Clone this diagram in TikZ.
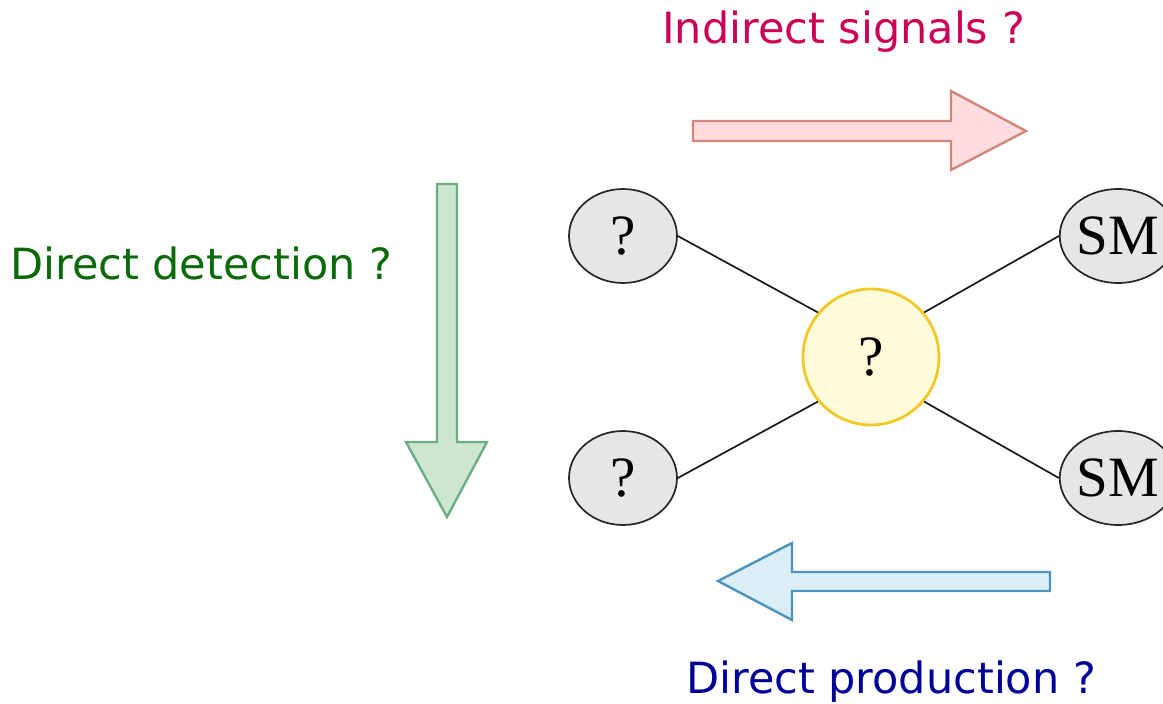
\documentclass[tikz,border=0pt]{standalone}
\usepackage{fontspec}
\setmainfont{Liberation Serif}
\newfontfamily\labelfont{DejaVu Sans}
\usetikzlibrary{shapes.geometric}
\definecolor{redtxt}{HTML}{CC0055}
\definecolor{greentxt}{HTML}{0A6A0A}
\definecolor{bluetxt}{HTML}{000099}
\definecolor{nodegray}{HTML}{E6E6E6}
\definecolor{yelfill}{HTML}{FFFBD8}
\definecolor{yeldraw}{HTML}{F0C828}
\definecolor{redfill}{HTML}{FFDCE0}
\definecolor{reddraw}{HTML}{D4857A}
\definecolor{grnfill}{HTML}{CDE6CF}
\definecolor{grndraw}{HTML}{6BAE86}
\definecolor{blufill}{HTML}{DBEEF8}
\definecolor{bludraw}{HTML}{4A94BE}
\tikzset{
  particle/.style={ellipse, draw=black!85, line width=1.7pt, fill=nodegray,
    minimum width=108pt, minimum height=94pt, inner sep=0pt,
    font=\fontsize{57}{60}\selectfont},
  mediator/.style={circle, draw=yeldraw, line width=2.8pt, fill=yelfill,
    minimum size=136pt, inner sep=0pt, font=\fontsize{57}{60}\selectfont},
  link/.style={line width=1.7pt, black!90},
  label/.style={anchor=base west, inner sep=0pt,
    font=\labelfont\fontsize{43}{50}\selectfont},
  bigarrow/.style={line width=2.4pt, line join=miter}
}
\begin{document}
\begin{tikzpicture}[x=1pt,y=-1pt]
\useasboundingbox (0,0) rectangle (1163,704);
% nodes
\node[particle] (tl) at (623,236) {?};
\node[particle] (bl) at (623,478) {?};
\node[particle] (tr) at (1118,236) {SM};
\node[particle] (br) at (1118,478) {SM};
\node[mediator] (c) at (871,357) {?};
% connectors
\draw[link] (tl.east) -- (c.140);
\draw[link] (bl.east) -- (c.220);
\draw[link] (tr.west) -- (c.40);
\draw[link] (br.west) -- (c.320);
% big arrows
\draw[bigarrow, draw=reddraw, fill=redfill]
  (693,121) -- (951,121) -- (951,91) -- (1026,131) -- (951,170) -- (951,141) -- (693,141) -- cycle;
\draw[bigarrow, draw=grndraw, fill=grnfill]
  (437,184) -- (457,184) -- (457,442) -- (487,442) -- (447,517) -- (406,442) -- (437,442) -- cycle;
\draw[bigarrow, draw=bludraw, fill=blufill]
  (1050,572) -- (792,572) -- (792,543) -- (718,581) -- (792,620) -- (792,591) -- (1050,591) -- cycle;
% labels
\node[label, text=redtxt] (ind) at (662,43) {Indirect signals ?};
\node[label, text=greentxt] (dd) at (10,279) {Direct detection ?};
\node[label, text=bluetxt] (dp) at (686,693) {Direct production ?};
\end{tikzpicture}
\end{document}
